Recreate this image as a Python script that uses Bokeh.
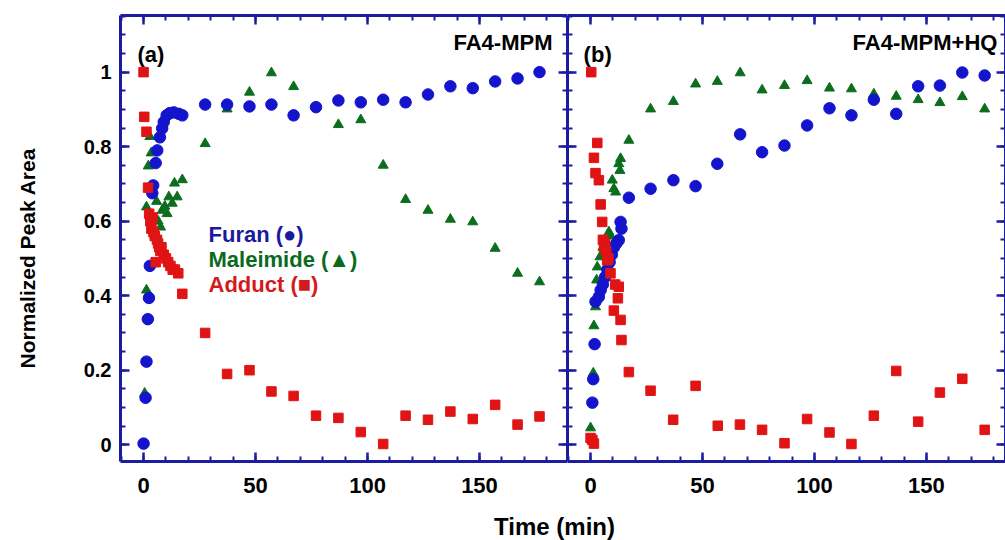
from bokeh.plotting import figure
from bokeh.models import Range1d, LinearAxis, FixedTicker, Label
from bokeh.layouts import row, column
from bokeh.embed import file_html
from bokeh.resources import INLINE

# ---------------- data ----------------
# Panel (a) FA4-MPM
a_furan_t = [0, 0.9, 1.3, 1.9, 2.4, 2.8, 3.9, 4.3, 5.4, 6.1, 7.3, 8.3, 9.0, 10.3, 11.7, 13.5, 15.8, 17.3,
             27.5, 37.3, 47.3, 57.1, 67.0, 77.0, 87.0, 97.0, 107.0, 117.0, 127.0, 137.0, 147.0, 157.0, 167.0, 176.8]
a_furan_y = [0.003, 0.126, 0.223, 0.337, 0.394, 0.48, 0.675, 0.696, 0.756, 0.79, 0.825, 0.849, 0.866, 0.884, 0.89, 0.892, 0.888, 0.884,
             0.913, 0.913, 0.908, 0.913, 0.884, 0.906, 0.924, 0.919, 0.926, 0.919, 0.94, 0.962, 0.957, 0.975, 0.983, 1.0]

a_male_t = [0.5, 1.3, 1.3, 2.1, 2.8, 3.4, 4.5, 5.8, 6.5, 7.6, 8.3, 9.5, 10.5, 11.3, 12.8, 13.8, 15.0, 17.3,
            27.5, 37.3, 47.3, 57.1, 67.0, 87.0, 97.0, 107.0, 117.0, 127.0, 137.0, 147.0, 157.0, 167.0, 176.8]
a_male_y = [0.138, 0.415, 0.638, 0.748, 0.827, 0.783, 0.57, 0.653, 0.60, 0.584, 0.629, 0.64, 0.62, 0.665, 0.648, 0.702, 0.665, 0.711,
            0.808, 0.901, 0.946, 0.998, 0.961, 0.859, 0.872, 0.75, 0.658, 0.629, 0.605, 0.598, 0.527, 0.46, 0.437]

a_add_t = [0, 0.3, 1.3, 2.0, 2.5, 3.0, 3.5, 4.0, 4.5, 5.0, 5.4, 6.0, 6.5, 7.0, 7.5, 8.0, 9.0, 10.0, 11.0, 12.0, 13.0, 14.0, 15.5, 17.3,
           27.5, 37.3, 47.3, 57.1, 67.0, 77.0, 87.0, 97.0, 107.0, 117.0, 127.0, 137.0, 147.0, 157.0, 167.0, 176.8]
a_add_y = [1.0, 0.88, 0.84, 0.69, 0.62, 0.60, 0.58, 0.61, 0.57, 0.56, 0.49, 0.55, 0.54, 0.53, 0.52, 0.53, 0.51, 0.50, 0.49, 0.48, 0.47, 0.47, 0.46, 0.405,
           0.30, 0.19, 0.20, 0.143, 0.131, 0.078, 0.072, 0.034, 0.002, 0.078, 0.067, 0.089, 0.069, 0.107, 0.054, 0.076]

# Panel (b) FA4-MPM+HQ
b_furan_t = [0.8, 1.2, 1.8, 2.2, 3.7, 4.5, 5.5, 6.5, 7.5, 8.5, 9.5, 10.5, 11.5, 12.6, 13.4, 13.8, 17.1,
             26.8, 37.0, 46.9, 56.6, 66.8, 76.6, 86.6, 96.7, 106.7, 116.5, 126.5, 136.5, 146.3, 156.0, 166.0, 176.0]
b_furan_y = [0.113, 0.176, 0.27, 0.384, 0.397, 0.415, 0.43, 0.45, 0.47, 0.49, 0.51, 0.53, 0.54, 0.549, 0.598, 0.58, 0.663,
             0.687, 0.71, 0.694, 0.754, 0.833, 0.785, 0.803, 0.857, 0.903, 0.884, 0.926, 0.888, 0.962, 0.964, 0.999, 0.991]

b_male_t = [0, 1.2, 1.5, 2.2, 2.7, 3.0, 4.2, 5.5, 6.5, 8.2, 9.0, 9.7, 10.4, 11.2, 12.6, 13.1, 13.4, 17.1,
            26.8, 37.0, 46.9, 56.6, 66.8, 76.6, 86.6, 96.7, 106.7, 116.5, 126.5, 136.5, 146.3, 156.0, 166.0, 176.0]
b_male_y = [0.045, 0.192, 0.319, 0.37, 0.442, 0.477, 0.504, 0.53, 0.55, 0.571, 0.56, 0.71, 0.687, 0.678, 0.754, 0.736, 0.768, 0.817,
            0.901, 0.921, 0.968, 0.975, 0.998, 0.952, 0.964, 0.977, 0.957, 0.955, 0.941, 0.935, 0.926, 0.918, 0.934, 0.901]

b_add_t = [0, 0.3, 0.8, 1.5, 1.5, 2.2, 3.0, 3.7, 4.5, 5.2, 5.5, 6.0, 6.5, 7.0, 7.4, 8.0, 8.9, 10.4, 11.0, 12.2, 12.6, 13.4, 13.8, 17.1,
           26.8, 36.9, 46.9, 56.8, 66.7, 76.6, 86.6, 96.7, 106.7, 116.5, 126.5, 136.5, 146.3, 156.0, 166.0, 176.0]
b_add_y = [0.018, 1.0, 0.013, 0.003, 0.77, 0.729, 0.81, 0.71, 0.645, 0.598, 0.55, 0.53, 0.54, 0.52, 0.495, 0.50, 0.46, 0.36, 0.43, 0.393, 0.424, 0.335, 0.281, 0.195,
           0.145, 0.067, 0.158, 0.051, 0.054, 0.04, 0.004, 0.069, 0.033, 0.002, 0.078, 0.198, 0.062, 0.14, 0.177, 0.04]

x_ticks = [0, 50, 100, 150]
x_minor = list(range(-10, 200, 10))
y_ticks = [0, 0.2, 0.4, 0.6, 0.8, 1.0]
y_minor = [round(0.05 * i, 2) for i in range(0, 24)]
y_labels = {0: "0", 0.2: "0.2", 0.4: "0.4", 0.6: "0.6", 0.8: "0.8", 1: "1"}

# ---------------- style ----------------
FRAME = "#1c1ca0"
BLUE = "#1414cc"
GREEN = "#0b6e1e"
RED = "#e01414"
FONT = "Liberation Sans"

Y_RANGE = (-0.045, 1.152)


def style_axis(ax, label_size):
    ax.axis_line_color = FRAME
    ax.axis_line_width = 3
    ax.major_tick_line_color = FRAME
    ax.minor_tick_line_color = FRAME
    ax.major_tick_line_width = 2.5
    ax.minor_tick_line_width = 2
    ax.major_tick_in = 9
    ax.major_tick_out = 0
    ax.minor_tick_in = 5
    ax.minor_tick_out = 0
    ax.major_label_text_font = FONT
    ax.major_label_text_font_style = "bold"
    if label_size:
        ax.major_label_text_color = "black"
        ax.major_label_text_font_size = label_size
    else:
        ax.major_label_text_color = None
        ax.major_label_text_font_size = "1px"
        ax.major_label_standoff = 0


def make_panel(width, xend, left_labels, min_left):
    p = figure(width=width, height=500, x_range=Range1d(-10.3, xend), y_range=Range1d(*Y_RANGE),
               toolbar_location=None, output_backend="svg",
               x_axis_location=None, y_axis_location=None,
               min_border_left=min_left, min_border_right=0, min_border_top=15, min_border_bottom=39)
    p.grid.visible = False
    p.outline_line_color = None
    p.background_fill_color = "white"
    p.border_fill_color = "white"

    xt = FixedTicker(ticks=x_ticks, minor_ticks=x_minor)
    yt = FixedTicker(ticks=y_ticks, minor_ticks=y_minor)

    below = LinearAxis(ticker=xt)
    style_axis(below, "22px")
    below.major_label_standoff = 16
    above = LinearAxis(ticker=xt)
    style_axis(above, None)
    left = LinearAxis(ticker=yt)
    style_axis(left, "20px" if left_labels else None)
    if left_labels:
        left.major_label_overrides = y_labels
        left.major_label_standoff = 9
    right = LinearAxis(ticker=yt)
    style_axis(right, None)
    p.add_layout(below, "below")
    p.add_layout(above, "above")
    p.add_layout(left, "left")
    p.add_layout(right, "right")
    return p


def draw(p, ft, fy, mt, my, at, ay):
    p.scatter(mt, my, marker="triangle", size=10, fill_color=GREEN, line_color=GREEN)
    p.scatter(ft, fy, marker="circle", size=11.5, fill_color=BLUE, line_color=BLUE)
    p.scatter(at, ay, marker="square", size=9.5, fill_color=RED, line_color=RED)


# left strip holding the y-axis title
ps = figure(width=40, height=500, x_range=Range1d(0, 40), y_range=Range1d(0, 500),
            toolbar_location=None, output_backend="svg", x_axis_location=None, y_axis_location=None,
            min_border=0, min_border_left=0, min_border_right=0, min_border_top=0, min_border_bottom=0)
ps.grid.visible = False
ps.outline_line_color = None
ps.add_layout(Label(x=27, y=228, text="Normalized Peak Area", angle=1.5707963, text_align="center",
                    text_baseline="middle", text_font=FONT, text_font_style="bold", text_font_size="21px",
                    text_color="black"))

pa = make_panel(527, 189.3, True, 80)
draw(pa, a_furan_t, a_furan_y, a_male_t, a_male_y, a_add_t, a_add_y)

pb = make_panel(438, 185.3, False, 0)
draw(pb, b_furan_t, b_furan_y, b_male_t, b_male_y, b_add_t, b_add_y)


def txt(p, x, y, s, color="black", align="left", size="22px"):
    p.add_layout(Label(x=x, y=y, text=s, text_color=color, text_align=align, text_baseline="middle",
                       text_font=FONT, text_font_style="bold", text_font_size=size))


txt(pa, -2.7, 1.048, "(a)")
txt(pa, 182.6, 1.08, "FA4-MPM", align="right")
txt(pb, -3.1, 1.048, "(b)")
txt(pb, 181.7, 1.08, "FA4-MPM+HQ", align="right")

txt(pa, 29.0, 0.5636, "Furan (\u25cf)", color="#1a1a9e")
txt(pa, 29.0, 0.4966, "Maleimide (\u25b2)", color="#0b6a1e")
txt(pa, 29.0, 0.429, "Adduct (\u25a0)", color="#d41a1a")

# x-axis title strip
pt = figure(width=1005, height=40, x_range=Range1d(0, 1005), y_range=Range1d(0, 40),
            toolbar_location=None, output_backend="svg", x_axis_location=None, y_axis_location=None,
            min_border=0, min_border_left=0, min_border_right=0, min_border_top=0, min_border_bottom=0)
pt.grid.visible = False
pt.outline_line_color = None
pt.add_layout(Label(x=554, y=14, text="Time (min)", text_align="center", text_baseline="middle",
                    text_font=FONT, text_font_style="bold", text_font_size="24px", text_color="black"))

layout = column(row(ps, pa, pb, spacing=0), pt, spacing=0)

open("out.html", "w").write(file_html(layout, INLINE))
